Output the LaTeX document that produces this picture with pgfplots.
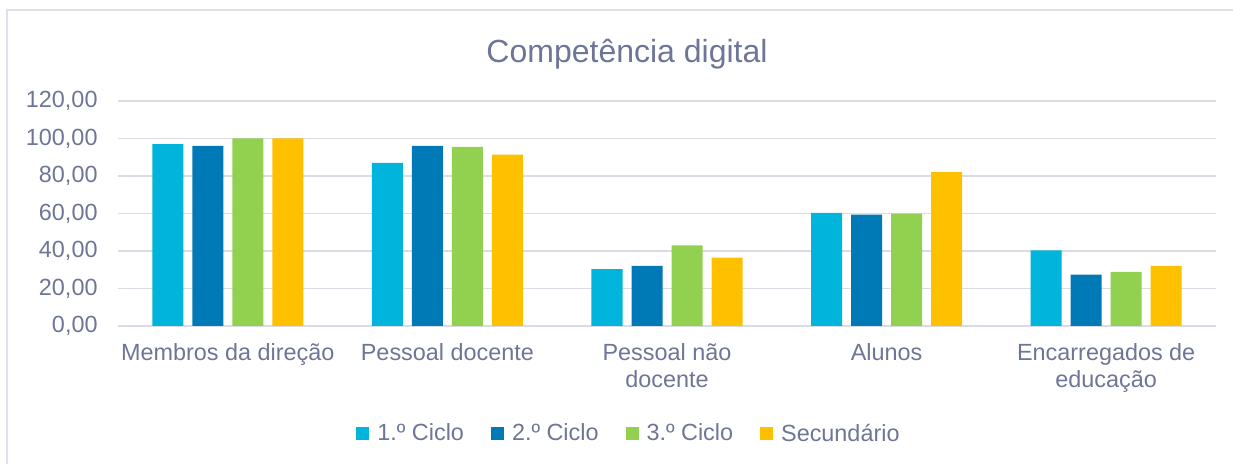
\documentclass[border=0pt]{standalone}
\usepackage{fontspec}
\setmainfont{Liberation Sans}
\usepackage{pgfplots}
\pgfplotsset{compat=1.18}

\definecolor{cA}{RGB}{0,180,220}
\definecolor{cB}{RGB}{0,122,183}
\definecolor{cC}{RGB}{146,208,80}
\definecolor{cD}{RGB}{255,192,0}
\definecolor{txt}{RGB}{110,117,150}
\definecolor{gridc}{RGB}{217,220,228}
\definecolor{framec}{RGB}{222,224,234}

\newcommand{\lbl}{\fontsize{11.7}{13.5}\selectfont}

\begin{document}
\begin{tikzpicture}
\useasboundingbox (0,0) rectangle (616.5pt,-232pt);
\draw[framec, line width=1pt] (3.5pt,-240pt) -- (3.5pt,-5.25pt) -- (630pt,-5.25pt);
\node[anchor=base, text=txt, font=\fontsize{16}{19}\selectfont] at (313.5pt,-31.5pt) {Competência digital};

\begin{axis}[
  at={(59pt,-163pt)}, anchor=south west,
  scale only axis, width=549pt, height=112.5pt,
  ybar=4.5pt, bar width=15.5pt,
  xmin=-0.5, xmax=4.5, ymin=0, ymax=120,
  xtick=data,
  xticklabels={Membros da direção, Pessoal docente, {Pessoal não\\docente}, Alunos, {Encarregados de\\educação}},
  ytick={0,20,...,120},
  /pgf/number format/fixed, /pgf/number format/fixed zerofill,
  /pgf/number format/precision=2, /pgf/number format/use comma,
  /pgf/number format/1000 sep={}, /pgf/number format/assume math mode=true,
  ticklabel style={font=\lbl, text=txt},
  yticklabel style={xshift=-6.7pt},
  xticklabel style={align=center, yshift=-5.3pt},
  major tick length=0pt,
  axis line style={draw=none},
  ymajorgrids, grid style={gridc, line width=0.8pt},
  legend columns=4,
  legend style={draw=none, fill=none, font=\lbl, text=txt,
    at={(rel axis cs:0.4663,-0.48)}, anchor=center,
    /tikz/every odd column/.append style={column sep=2pt},
    /tikz/every even column/.append style={column sep=11.5pt}},
  legend image code/.code={\fill[#1] (0pt,-3.2pt) rectangle (6.5pt,3.3pt);},
]
\addplot[fill=cA, draw=none] coordinates {(0,97.0) (1,87.0) (2,30.3) (3,60.3) (4,40.3)};
\addplot[fill=cB, draw=none] coordinates {(0,96.0) (1,96.0) (2,32.0) (3,59.4) (4,27.4)};
\addplot[fill=cC, draw=none] coordinates {(0,100.0) (1,95.5) (2,43.0) (3,59.9) (4,28.9)};
\addplot[fill=cD, draw=none] coordinates {(0,100.0) (1,91.4) (2,36.5) (3,82.0) (4,32.0)};
\legend{1.º Ciclo, 2.º Ciclo, 3.º Ciclo, Secundário}
\end{axis}
\end{tikzpicture}
\end{document}
